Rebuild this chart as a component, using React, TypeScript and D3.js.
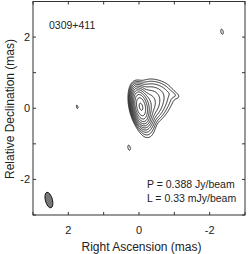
import React from "react";
import * as d3 from "d3";

// source components (mas, mJy/beam)
const compRa = [-0.05, -0.15, -0.3, -0.45, -0.65, -0.97, -0.2, 1.75, 0.28, -2.35];
const compDec = [0.04, 0.05, 0.15, 0.3, 0.42, 0.38, -0.45, 0.04, -1.11, 2.15];
const compPeak = [355, 40, 12, 4, 1.3, 0.45, 1.5, 0.34, 0.355, 0.355];
const compMaj = [0.47, 0.5, 0.5, 0.55, 0.5, 0.35, 0.5, 0.45, 0.45, 0.45];
const compMin = [0.21, 0.25, 0.35, 0.4, 0.4, 0.15, 0.3, 0.2, 0.2, 0.2];
const compPa = [12, 15, 20, 30, 60, 70, 10, 12, 12, 12];

// contour levels: L * 2^n, mJy/beam
const levels = [0.33, 0.66, 1.32, 2.64, 5.28, 10.56, 21.12, 42.24, 84.48, 168.96, 337.92];

const tickValues = [-3, -2, -1, 0, 1, 2, 3];
const tickLabels = [-2, 0, 2];

// restoring beam: major, minor (mas), PA (deg), centre
const beam = { maj: 0.45, min: 0.2, pa: 15, ra: 2.55, dec: -2.58 };

const W = 249, H = 254;
const font = "'Liberation Sans', Arial, Helvetica, sans-serif";

export default function App() {
  const x = d3.scaleLinear().domain([3, -3]).range([33, 245]);
  const y = d3.scaleLinear().domain([-3, 3]).range([215, 1.5]);

  // sample the model on a grid
  const step = 0.01;
  const n = Math.round(6 / step) + 1;
  const values = new Float64Array(n * n);
  const k = 4 * Math.LN2;
  for (let j = 0; j < n; j++) {
    const dec = 3 - j * step;
    for (let i = 0; i < n; i++) {
      const ra = 3 - i * step;
      let v = 0;
      for (let c = 0; c < compRa.length; c++) {
        const dx = ra - compRa[c], dy = dec - compDec[c];
        const t = (compPa[c] * Math.PI) / 180;
        const u = dx * Math.sin(t) + dy * Math.cos(t);
        const w = dx * Math.cos(t) - dy * Math.sin(t);
        const q = (u * u) / (compMaj[c] * compMaj[c]) + (w * w) / (compMin[c] * compMin[c]);
        if (q < 20) v += compPeak[c] * Math.exp(-k * q);
      }
      values[i + j * n] = v;
    }
  }
  const cs = d3.contours().size([n, n]).thresholds(levels)(Array.from(values));
  const path = d3.geoPath(
    d3.geoTransform({
      point(px: number, py: number) {
        this.stream.point(x(3 - (px - 0.5) * step), y(3 - (py - 0.5) * step));
      },
    })
  );

  const sx = x(0) - x(1);
  const sy = y(0) - y(1);
  const axisColor = "#333";

  return (
    <svg width={W} height={H} style={{ position: "absolute", left: 0, top: 0, background: "#fff" }}>
      <g>
        {cs.map((c, i) => (
          <path key={i} d={path(c as any) || ""} fill="none" stroke="#000" strokeWidth={0.85} />
        ))}
      </g>
      <ellipse
        cx={x(beam.ra)}
        cy={y(beam.dec)}
        rx={(beam.min / 2) * sx}
        ry={(beam.maj / 2) * sy}
        transform={`rotate(${-beam.pa},${x(beam.ra)},${y(beam.dec)})`}
        fill="#777"
        stroke="#000"
        strokeWidth={0.8}
      />
      <rect x={33} y={1.5} width={212} height={213.5} fill="none" stroke={axisColor} strokeWidth={1} />
      {tickValues.map((t) => (
        <g key={"t" + t} stroke={axisColor} strokeWidth={1}>
          <line x1={x(t)} x2={x(t)} y1={215} y2={212} />
          <line x1={x(t)} x2={x(t)} y1={1.5} y2={4.5} />
          <line x1={33} x2={36} y1={y(t)} y2={y(t)} />
          <line x1={245} x2={242} y1={y(t)} y2={y(t)} />
        </g>
      ))}
      <g fontFamily={font} fontSize={11} fill="#222">
        {tickLabels.map((t) => (
          <text key={"x" + t} x={x(t)} y={233.5} textAnchor="middle">
            {t < 0 ? "-" + Math.abs(t) : t}
          </text>
        ))}
        {tickLabels.map((t) => (
          <text key={"y" + t} x={30} y={y(t) + 4} textAnchor="end">
            {t < 0 ? "-" + Math.abs(t) : t}
          </text>
        ))}
      </g>
      <g fontFamily={font} fontSize={12} fill="#222">
        <text x={141.5} y={251} textAnchor="middle">Right Ascension (mas)</text>
        <text transform={`translate(14,109) rotate(-90)`} textAnchor="middle">
          Relative Declination (mas)
        </text>
      </g>
      <g fontFamily={font} fontSize={10.5} fill="#222">
        <text x={49} y={29}>0309+411</text>
        <text x={147} y={188}>P = 0.388 Jy/beam</text>
        <text x={147} y={202}>L = 0.33 mJy/beam</text>
      </g>
    </svg>
  );
}
